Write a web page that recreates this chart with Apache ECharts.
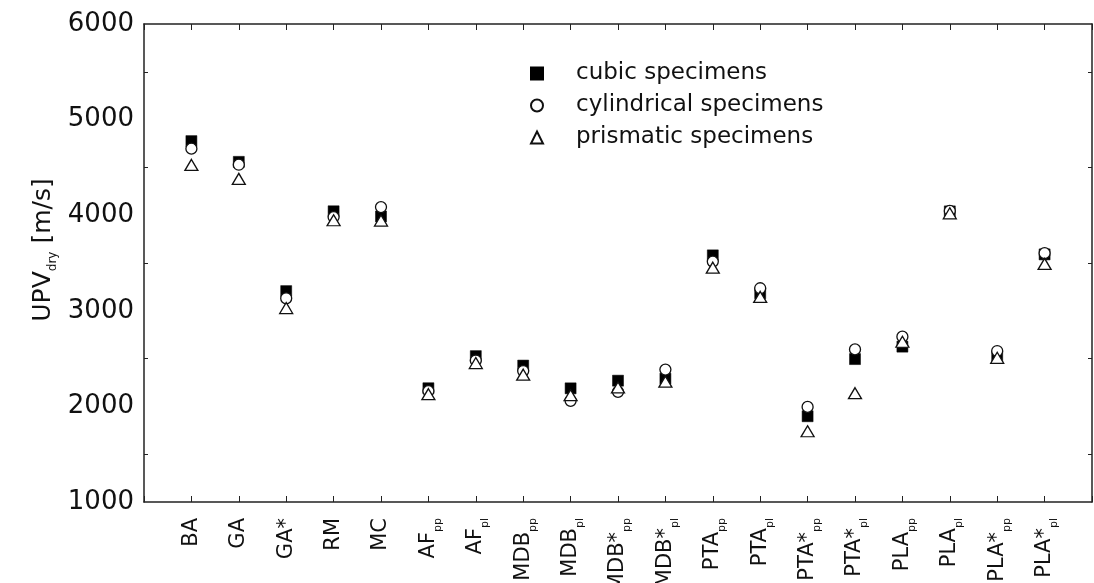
<!DOCTYPE html>
<html><head><meta charset="utf-8">
<script src="https://cdn.jsdelivr.net/npm/echarts@6/dist/echarts.min.js"></script>
<style>html,body{margin:0;padding:0;background:#fff}#c{width:1094px;height:583px}</style>
</head><body><div id="c"></div>
<script>
const catBase = ['BA','GA','GA*','RM','MC','AF','AF','MDB','MDB','MDB*','MDB*','PTA','PTA','PTA*','PTA*','PLA','PLA','PLA*','PLA*'];
const catSub  = ['','','','','','pp','pl','pp','pl','pp','pl','pp','pl','pp','pl','pp','pl','pp','pl'];
const cubic       = [4775,4558,3206,4041,3987,2190,2526,2427,2189,2269,2290,3580,3183,1897,2495,2625,4040,2520,3590];
const cylindrical = [4696,4528,3131,3980,4085,2160,2480,2370,2058,2152,2385,3515,3236,1995,2596,2729,4045,2579,3603];
const prismatic   = [4526,4380,3029,3947,3944,2128,2453,2332,2117,2198,2259,3451,3145,1740,2138,2676,4020,2508,3491];
const yTicks = [1000,2000,3000,4000,5000,6000];
const seriesNames = ['cubic specimens','cylindrical specimens','prismatic specimens'];

const cats = [''].concat(catBase.map((b,i)=>b+'|'+catSub[i])).concat(['']);
const pad = a => [null].concat(a).concat([null]);
const font = '"DejaVu Sans", "Liberation Sans", Arial, sans-serif';
const axisCol = '#222';

const chart = echarts.init(document.getElementById('c'));
chart.setOption({
  animation:false,
  backgroundColor:'#fff',
  grid:{left:144,right:2,top:24,bottom:81,outerBoundsMode:'none',containLabel:false},
  legend:{
    orient:'vertical', left:525, top:57, itemGap:9, itemWidth:12, itemHeight:12,
    data:seriesNames,
    textStyle:{fontFamily:font,fontSize:23,color:'#111',padding:[0,0,0,28]}
  },
  xAxis:[{
    type:'category', data:cats, boundaryGap:false,
    axisLine:{lineStyle:{color:axisCol,width:1.5}},
    axisTick:{inside:true,length:6,interval:0,lineStyle:{color:axisCol}},
    splitLine:{show:false},
    axisLabel:{
      interval:0, rotate:90, margin:16, color:'#111', fontFamily:font,
      formatter:function(v){ if(!v) return ''; const p=v.split('|'); return '{m|'+p[0]+'}'+(p[1]?'{s|'+p[1]+'}':''); },
      rich:{m:{fontSize:21,fontFamily:font,color:'#111'},s:{fontSize:11,fontFamily:font,color:'#111',verticalAlign:'bottom',lineHeight:30}}
    }
  },{
    type:'category', data:cats, boundaryGap:false, position:'top',
    axisLine:{lineStyle:{color:axisCol,width:1.5}},
    axisTick:{inside:true,length:6,interval:0,lineStyle:{color:axisCol}},
    axisLabel:{show:false}
  }],
  yAxis:[{
    type:'value', min:1000, max:6000, interval:1000,
    name:'{m|UPV}{s|dry}{m| [m/s]}', nameLocation:'middle', nameRotate:90, nameGap:85, nameMoveOverlap:false,
    nameTextStyle:{padding:[0,0,0,26],rich:{m:{fontSize:25,fontFamily:font,color:'#111'},s:{fontSize:12,fontFamily:font,color:'#111',verticalAlign:'bottom',lineHeight:32}}},
    axisLine:{show:true,lineStyle:{color:axisCol,width:1.5}},
    axisTick:{inside:true,length:7,lineStyle:{color:axisCol}},
    minorTick:{show:true,splitNumber:2,length:4,lineStyle:{color:axisCol}},
    splitLine:{show:false},
    axisLabel:{fontSize:26,fontFamily:font,color:'#111',margin:10,
      formatter:function(v){ return yTicks.indexOf(v)>=0 ? String(v) : ''; }}
  },{
    type:'value', min:1000, max:6000, interval:1000, position:'right',
    axisLine:{show:true,lineStyle:{color:axisCol,width:1.5}},
    axisTick:{inside:true,length:7,lineStyle:{color:axisCol}},
    minorTick:{show:true,splitNumber:2,length:4,lineStyle:{color:axisCol}},
    splitLine:{show:false}, axisLabel:{show:false}
  }],
  series:[
    {name:seriesNames[0],type:'scatter',symbol:'rect',symbolSize:11,data:pad(cubic),
     itemStyle:{color:'#000',borderColor:'#000',borderWidth:0.5,opacity:1}},
    {name:seriesNames[1],type:'scatter',symbol:'circle',symbolSize:11,data:pad(cylindrical),
     itemStyle:{color:'#fff',borderColor:'#111',borderWidth:1.3,opacity:1}},
    {name:seriesNames[2],type:'scatter',symbol:'triangle',symbolSize:[13,11],data:pad(prismatic),
     itemStyle:{color:'#fff',borderColor:'#111',borderWidth:1.3,opacity:1}}
  ]
});
</script></body></html>
